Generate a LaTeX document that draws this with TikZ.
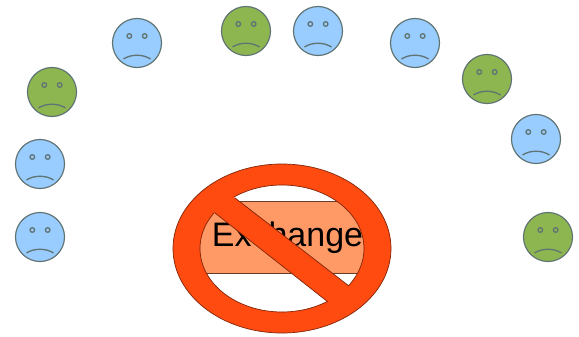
\documentclass[tikz,border=0pt]{standalone}
\usepackage{fontspec}
\setmainfont{Liberation Sans}
\usepackage{xcolor}
\usetikzlibrary{calc}
\definecolor{skyc}{RGB}{153,204,255}
\definecolor{leafc}{RGB}{142,182,80}
\definecolor{edgec}{RGB}{95,115,115}
\definecolor{banc}{RGB}{255,74,16}
\definecolor{boxc}{RGB}{255,153,102}
\tikzset{
  face/.style={circle,draw=edgec,line width=1pt,minimum size=1.47cm,inner sep=0pt},
  faceline/.style={draw=edgec,line width=1.1pt},
  banline/.style={draw=black!50!banc,line width=0.6pt}
}

\begin{document}
\begin{tikzpicture}[x=0.03cm,y=-0.03cm]
  \useasboundingbox (0,0) rectangle (579,337);
  % the sad faces
  \foreach \n/\x/\y/\col in {1/40/237/skyc,2/40/164/skyc,3/52/92/leafc,4/137/43/skyc,5/246/31/leafc,6/318/31/skyc,7/415/43/skyc,8/487/79/leafc,9/536/139/skyc,10/548/237/leafc}{
    \node[face,fill=\col] (f\n) at (\x,\y) {};
    \draw[faceline] ($(f\n)+(-7.7,-7)$) circle (2.3);
    \draw[faceline] ($(f\n)+(7.7,-7)$) circle (2.3);
    \draw[faceline] ($(f\n)+(-13.5,16)$) .. controls ($(f\n)+(-6,11)$) and ($(f\n)+(6,11)$) .. ($(f\n)+(13.5,16)$);
  }
  % the box under the sign
  \fill[boxc] (198,201) rectangle (366,273);
  \draw[black!60!boxc,line width=0.7pt] (198,201) -- (366,201);
  \draw[black!60!boxc,line width=0.7pt] (198,273) -- (366,273);
  \node[font=\fontsize{29}{30}\selectfont,text=black,inner sep=0pt] (exch) at (287.5,238) {Exchange};
  % the sign
  \fill[banc,even odd rule] (282,248.5) ellipse [x radius=109,y radius=84.5] (282,248.5) ellipse [x radius=82,y radius=63.5];
  \draw[banline] (282,248.5) ellipse [x radius=109,y radius=84.5];
  \draw[banline] (282,248.5) ellipse [x radius=82,y radius=63.5];
  % the bar
  \fill[banc] (230,194) -- (354,290) -- (333,306) -- (210,209) -- cycle;
  \draw[banline] (235,198) -- (349,286);
  \draw[banline] (215,213) -- (328,302);
\end{tikzpicture}
\end{document}
